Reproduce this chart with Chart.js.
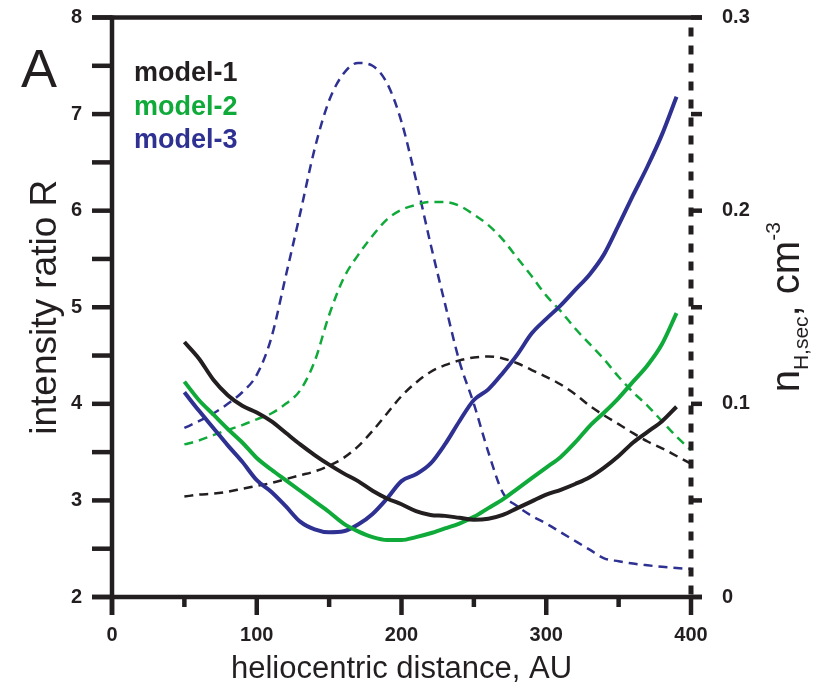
<!DOCTYPE html>
<html>
<head>
<meta charset="utf-8">
<script src="https://cdn.jsdelivr.net/npm/chart.js@4/dist/chart.umd.min.js"></script>
<style>
  html, body { margin: 0; padding: 0; background: #fff; }
</style>
</head>
<body>
<canvas id="grafico" width="816" height="686"></canvas>
<script>
// distancias (AU) de las curvas continuas y discontinuas
const distR = [50, 60, 70, 80, 90, 100, 110, 120, 130, 140, 150, 160, 170, 180, 190, 200, 210, 220,
  230, 240, 250, 260, 270, 280, 290, 300, 310, 320, 330, 340, 350, 360, 370, 380, 390];
const distN = [50, 60, 70, 80, 90, 100, 110, 120, 130, 140, 150, 160, 170, 180, 190, 200, 210, 220,
  230, 240, 250, 260, 270, 280, 290, 300, 310, 320, 330, 340, 350, 360, 370, 380, 390, 400];

// intensity ratio R (eje izquierdo)
const ratio1 = [4.64, 4.47, 4.25, 4.09, 3.98, 3.91, 3.82, 3.70, 3.58, 3.47, 3.37, 3.28, 3.20, 3.10, 3.02,
  2.96, 2.89, 2.85, 2.84, 2.82, 2.80, 2.81, 2.85, 2.92, 2.99, 3.06, 3.11, 3.17, 3.24, 3.34, 3.46, 3.60,
  3.71, 3.82, 3.97];
const ratio2 = [4.23, 4.04, 3.89, 3.74, 3.60, 3.44, 3.32, 3.21, 3.10, 2.99, 2.88, 2.76, 2.68, 2.62, 2.59,
  2.59, 2.62, 2.66, 2.71, 2.76, 2.83, 2.92, 3.01, 3.12, 3.23, 3.34, 3.45, 3.60, 3.77, 3.91, 4.06, 4.23,
  4.40, 4.62, 4.94];
const ratio3 = [4.12, 3.93, 3.75, 3.57, 3.40, 3.21, 3.09, 2.94, 2.78, 2.70, 2.67, 2.68, 2.75, 2.86, 3.02,
  3.20, 3.27, 3.38, 3.58, 3.82, 4.04, 4.15, 4.32, 4.51, 4.73, 4.88, 5.02, 5.18, 5.34, 5.55, 5.85, 6.16,
  6.46, 6.79, 7.18];

// n_H,sec en cm^-3 (eje derecho)
const dens1 = [0.052, 0.053, 0.0535, 0.0545, 0.056, 0.0575, 0.059, 0.061, 0.063, 0.065, 0.068, 0.072,
  0.078, 0.086, 0.095, 0.104, 0.111, 0.1165, 0.120, 0.1225, 0.124, 0.1245, 0.1235, 0.121, 0.1175, 0.114,
  0.110, 0.105, 0.099, 0.094, 0.0895, 0.0848, 0.0805, 0.077, 0.073, 0.069];
const dens2 = [0.079, 0.081, 0.0838, 0.0865, 0.089, 0.092, 0.095, 0.100, 0.107, 0.122, 0.146, 0.165,
  0.177, 0.187, 0.1955, 0.2005, 0.203, 0.2045, 0.2045, 0.2025, 0.198, 0.1925, 0.185, 0.1755, 0.166, 0.156,
  0.148, 0.139, 0.131, 0.123, 0.114, 0.106, 0.099, 0.091, 0.083, 0.076];
const dens3 = [0.0875, 0.091, 0.095, 0.100, 0.106, 0.115, 0.134, 0.166, 0.1986, 0.232, 0.257, 0.271,
  0.2765, 0.275, 0.266, 0.246, 0.216, 0.183, 0.152, 0.122, 0.100, 0.075, 0.054, 0.047, 0.042, 0.038,
  0.0335, 0.029, 0.0245, 0.020, 0.0185, 0.0173, 0.0164, 0.0156, 0.015, 0.0145];

const modelos = ['model-1', 'model-2', 'model-3'];
const colores = ['#231f20', '#10aa3a', '#2e3192'];
const INK = '#231f20';
const FUENTE = '"Liberation Sans", Arial, sans-serif';

function puntos(xs, ys) {
  return xs.map((x, i) => ({ x: x, y: ys[i] }));
}

const solidas = [ratio1, ratio2, ratio3].map((serie, i) => ({
  label: modelos[i],
  data: puntos(distR, serie),
  yAxisID: 'y',
  borderColor: colores[i],
  borderWidth: 4
}));
const discontinuas = [dens1, dens2, dens3].map((serie, i) => ({
  label: modelos[i] + ' n',
  data: puntos(distN, serie),
  yAxisID: 'y2',
  borderColor: colores[i],
  borderWidth: 2.5,
  borderDash: [9, 6]
}));

// quitar el relleno automático de las etiquetas para fijar el área del gráfico
function fijar(medida, valor) {
  return s => {
    s[medida] = valor;
    s.paddingTop = 0; s.paddingBottom = 0; s.paddingLeft = 0; s.paddingRight = 0;
  };
}

// ejes, marcas, títulos y leyenda
const ejesPlugin = {
  id: 'ejes',
  afterDraw(chart) {
    const { ctx, chartArea: a, scales } = chart;
    const x = scales.x, y = scales.y, y2 = scales.y2;
    const linea = (x1, y1, x2, y2p) => {
      ctx.beginPath(); ctx.moveTo(x1, y1); ctx.lineTo(x2, y2p); ctx.stroke();
    };
    ctx.save();
    ctx.strokeStyle = INK;
    ctx.lineWidth = 4.5;
    ctx.lineCap = 'butt';

    linea(a.left - 20, a.top, a.right + 11, a.top);
    linea(a.left - 20, a.bottom, a.right + 11, a.bottom);
    linea(a.left, a.top - 2, a.left, a.bottom + 18);

    y.ticks.forEach(t => {
      const py = y.getPixelForValue(t.value);
      linea(a.left - 20, py, a.left, py);
    });
    x.ticks.forEach(t => {
      const px = x.getPixelForValue(t.value);
      const largo = Math.round(t.value) % 100 === 0 ? 18 : 10;
      linea(px, a.bottom, px, a.bottom + largo);
    });
    y2.ticks.forEach(t => {
      const py = y2.getPixelForValue(t.value);
      linea(a.right, py, a.right + 11, py);
    });

    ctx.lineWidth = 5;
    ctx.setLineDash([9, 9]);
    linea(a.right, a.top + 10, a.right, a.bottom);
    ctx.setLineDash([]);

    ctx.fillStyle = INK;
    const medioY = (a.top + a.bottom) / 2;

    // título izquierdo
    ctx.save();
    ctx.translate(56, medioY);
    ctx.rotate(-Math.PI / 2);
    ctx.textAlign = 'center';
    ctx.textBaseline = 'alphabetic';
    ctx.font = '37px ' + FUENTE;
    ctx.fillText('intensity ratio R', 0, 0);
    ctx.restore();

    // título inferior
    ctx.textAlign = 'center';
    ctx.textBaseline = 'alphabetic';
    ctx.font = '31px ' + FUENTE;
    ctx.fillText('heliocentric distance, AU', (a.left + a.right) / 2, 678);

    // título derecho con subíndice y superíndice
    const partes = [
      { t: 'n', f: '40px ', d: 0 },
      { t: 'H,sec', f: '21px ', d: 9 },
      { t: ', cm', f: '40px ', d: 0 },
      { t: '-3', f: '21px ', d: -19 }
    ];
    let total = 0;
    partes.forEach(p => { ctx.font = p.f + FUENTE; p.w = ctx.measureText(p.t).width; total += p.w; });
    ctx.save();
    ctx.translate(799, medioY);
    ctx.rotate(-Math.PI / 2);
    ctx.textAlign = 'left';
    let cx = -total / 2;
    partes.forEach(p => {
      ctx.font = p.f + FUENTE;
      ctx.fillText(p.t, cx, p.d);
      cx += p.w;
    });
    ctx.restore();

    // letra del panel
    ctx.textAlign = 'left';
    ctx.font = '54px ' + FUENTE;
    ctx.fillText('A', 21, 87);

    // leyenda
    ctx.font = 'bold 27px ' + FUENTE;
    const bases = [81, 114.5, 148];
    modelos.forEach((m, i) => {
      ctx.fillStyle = colores[i];
      ctx.fillText(m, 134, bases[i]);
    });
    ctx.restore();
  }
};

const fuenteTicks = { family: FUENTE, size: 20, weight: 'bold' };

new Chart(document.getElementById('grafico').getContext('2d'), {
  type: 'line',
  data: { datasets: solidas.concat(discontinuas) },
  options: {
    responsive: false,
    animation: false,
    devicePixelRatio: 1,
    layout: { padding: { top: 17.5, left: 0, right: 0, bottom: 0 } },
    elements: {
      point: { radius: 0 },
      line: { cubicInterpolationMode: 'monotone', fill: false }
    },
    plugins: { legend: { display: false }, tooltip: { enabled: false } },
    scales: {
      x: {
        type: 'linear', min: 0, max: 400,
        afterFit: fijar('height', 89),
        grid: { display: false, drawTicks: false },
        border: { display: false },
        ticks: {
          stepSize: 50, autoSkip: false, maxRotation: 0, padding: 26,
          color: INK, font: fuenteTicks,
          callback: v => (Math.round(v) % 100 === 0 ? String(v) : '')
        }
      },
      y: {
        position: 'left', min: 2, max: 8,
        afterFit: fijar('width', 112),
        grid: { display: false, drawTicks: false },
        border: { display: false },
        ticks: {
          stepSize: 0.5, autoSkip: false, padding: 30,
          color: INK, font: fuenteTicks,
          callback: v => (Number.isInteger(v) ? String(v) : '')
        }
      },
      y2: {
        position: 'right', min: 0, max: 0.3,
        afterFit: fijar('width', 125),
        grid: { display: false, drawTicks: false },
        border: { display: false },
        ticks: {
          stepSize: 0.05, autoSkip: false, padding: 31,
          color: INK, font: fuenteTicks,
          callback: v => {
            const c = Math.round(v * 100);
            if (c % 10 !== 0) return '';
            return c === 0 ? '0' : (c / 100).toFixed(1);
          }
        }
      }
    }
  },
  plugins: [ejesPlugin]
});
</script>
</body>
</html>
